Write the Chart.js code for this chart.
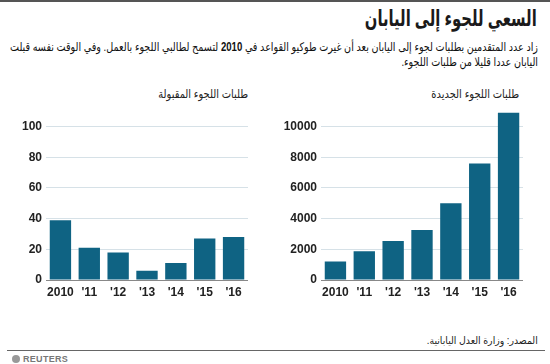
<!DOCTYPE html>
<html><head><meta charset="utf-8">
<script src="https://cdn.jsdelivr.net/npm/chart.js@4"></script>
<style>
html,body{margin:0;padding:0;background:#fff;width:550px;height:364px;overflow:hidden;font-family:"Liberation Sans","DejaVu Sans",sans-serif;color:#222}
.abs{position:absolute}
#topline{left:0;top:0;width:550px;height:2px;background:#555}
#title{right:13px;top:6px;font-size:22px;font-weight:bold;direction:rtl;white-space:nowrap;color:#1a1a1a;transform-origin:100% 50%}
#sub{right:12px;top:40px;font-size:12px;line-height:15px;direction:rtl;text-align:right;white-space:nowrap;color:#111;transform-origin:100% 50%}
.lab{top:87px;font-size:12px;direction:rtl;white-space:nowrap;transform-origin:100% 50%}
#lab1{right:302px}
#lab2{right:31px}
#source{right:12px;top:335px;font-size:10px;direction:rtl;white-space:nowrap;transform-origin:100% 50%}
#botline{left:7px;top:350px;width:538px;height:1px;background:#666}
#logo{left:12px;top:355px;width:8px;height:8px;border-radius:50%;background:#999}
#reuters{left:23px;top:354px;font-size:9px;font-weight:bold;color:#777;letter-spacing:0.3px}
canvas{display:block}
</style></head><body>
<div class="abs" id="topline"></div>
<div class="abs" id="title">السعي للجوء إلى اليابان</div>
<div class="abs" id="sub">زاد عدد المتقدمين بطلبات لجوء إلى اليابان بعد أن غيرت طوكيو القواعد في <b>2010</b> لتسمح لطالبي اللجوء بالعمل. وفي الوقت نفسه قبلت<br>اليابان عددا قليلا من طلبات اللجوء.</div>
<div class="abs lab" id="lab1">طلبات اللجوء المقبولة</div>
<div class="abs lab" id="lab2">طلبات اللجوء الجديدة</div>
<div class="abs" style="left:0;top:100px;width:248px;height:200px"><canvas id="c1" width="248" height="200"></canvas></div>
<div class="abs" style="left:275px;top:100px;width:248px;height:200px"><canvas id="c2" width="248" height="200"></canvas></div>
<div class="abs" id="source">المصدر: وزارة العدل اليابانية.</div>
<div class="abs" id="botline"></div>
<div class="abs" id="logo"></div>
<div class="abs" id="reuters">REUTERS</div>
<script>
const years = ["2010", "'11", "'12", "'13", "'14", "'15", "'16"];
const accepted = [39, 21, 18, 6, 11, 27, 28];
const applications = [1202, 1867, 2545, 3260, 5000, 7586, 10901];
const acceptedTicks = [0, 20, 40, 60, 80, 100];
const applicationTicks = [0, 2000, 4000, 6000, 8000, 10000];

// squeeze wide fallback Arabic text horizontally to the reference widths
function fitWidth(id, target) {
  const el = document.getElementById(id);
  const w = el.getBoundingClientRect().width;
  if (w > target) el.style.transform = 'scaleX(' + (target / w) + ')';
}
fitWidth('title', 172);
fitWidth('sub', 528);
fitWidth('lab1', 90);
fitWidth('lab2', 88);
fitWidth('source', 111);

function makeChart(id, data, tickVals, max) {
  new Chart(document.getElementById(id), {
    type: 'bar',
    data: { labels: years, datasets: [{ data: data, backgroundColor: '#0f6383', barPercentage: 0.74, categoryPercentage: 1 }] },
    options: {
      responsive: false, animation: false,
      layout: { padding: { top: 8, right: 0, left: 0, bottom: 0 } },
      plugins: { legend: { display: false }, tooltip: { enabled: false } },
      scales: {
        x: {
          grid: { display: false, drawTicks: false },
          border: { display: true, color: '#888', width: 1 },
          ticks: { color: '#222', autoSkip: false, font: { family: 'Liberation Sans', size: 12, weight: 'bold' }, padding: 5, maxRotation: 0 },
          afterFit: s => { s.height = 20; }
        },
        y: {
          min: 0, max: max,
          grid: { drawTicks: false, color: c => c.tick && c.tick.value === 0 ? '#888' : '#d6e1e7', lineWidth: 1 },
          border: { display: false },
          ticks: { stepSize: tickVals[1], color: '#222', font: { family: 'Liberation Sans', size: 12, weight: 'bold' }, padding: 4, callback: v => String(v) },
          afterBuildTicks: s => { s.ticks = tickVals.map(v => ({ value: v })); },
          afterFit: s => { s.width = 46; }
        }
      }
    }
  });
}
makeChart('c1', accepted, acceptedTicks, 110);
makeChart('c2', applications, applicationTicks, 11000);
</script>
</body></html>
